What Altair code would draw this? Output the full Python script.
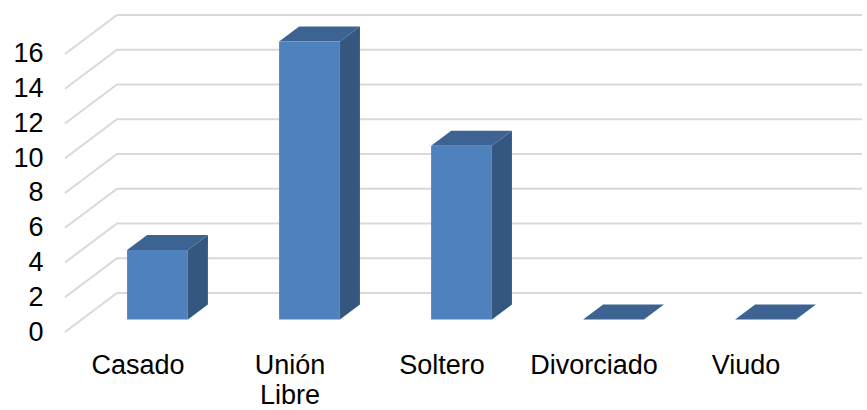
import json
import altair as alt
import pandas as pd

# ---- data ----
categories = ["Casado", "Unión Libre", "Soltero", "Divorciado", "Viudo"]
values = [4, 16, 10, 0, 0]
y_ticks = [0, 2, 4, 6, 8, 10, 12, 14, 16]

# ---- pseudo-3D geometry (style constants, in scale units) ----
X_MIN, X_MAX = -0.477, 4.766
Y_MAX = 18.53
DEPTH_X = 0.342   # full floor depth, category units
DEPTH_Y = 2.245   # full floor depth, value units
F_FRONT = 0.32
F_BACK = 0.705
HALF_W = 0.2
SHIFT = 0.022

FRONT_C = "#4F81BD"
TOP_C = "#3D6392"
SIDE_C = "#34567F"
GRID_C = "#D9D9D9"
FONT = "Liberation Sans"
FS = 27

front_rows, top_rows, side_rows, grid_rows = [], [], [], []
dxb = (F_BACK - F_FRONT) * DEPTH_X
y0f = F_FRONT * DEPTH_Y
y0b = F_BACK * DEPTH_Y
for i, (c, v) in enumerate(zip(categories, values)):
    cx = i + F_FRONT * DEPTH_X + SHIFT
    xl, xr = cx - HALF_W, cx + HALF_W
    front_rows.append(dict(cat=c, x=xl, x2=xr, y=y0f, y2=v + y0f))
    top_rows += [dict(cat=c, k=0, y=v + y0f, x=xl, x2=xr),
                 dict(cat=c, k=1, y=v + y0b, x=xl + dxb, x2=xr + dxb)]
    side_rows += [dict(cat=c, k=0, x=xr, y=v + y0f, y2=y0f),
                  dict(cat=c, k=1, x=xr + dxb, y=v + y0b, y2=y0b)]
for t in y_ticks:
    grid_rows += [dict(t=t, k=0, x=X_MIN, y=t),
                  dict(t=t, k=1, x=X_MIN + DEPTH_X, y=t + DEPTH_Y),
                  dict(t=t, k=2, x=X_MAX, y=t + DEPTH_Y)]

names = [c.split(" ") for c in categories]
x_axis = alt.Axis(values=list(range(len(categories))),
                  labelExpr=json.dumps(names, ensure_ascii=False) + "[datum.value]",
                  labelFont=FONT, labelFontSize=FS, labelColor="#000000",
                  labelPadding=20, labelLineHeight=30, labelAngle=0,
                  labelFlush=False, labelOverlap=False, labelBound=False,
                  domain=False, ticks=False, grid=False, title=None)
y_axis = alt.Axis(values=y_ticks, labelFont=FONT, labelFontSize=FS,
                  labelColor="#000000", labelPadding=22, tickSize=0,
                  labelFlush=False, labelOverlap=False,
                  domain=False, ticks=False, grid=False, title=None)
xs = alt.Scale(domain=[X_MIN, X_MAX], nice=False, zero=False)
ys = alt.Scale(domain=[0, Y_MAX], nice=False, zero=False)

X = alt.X("x:Q", scale=xs, axis=x_axis, stack=None)
Y = alt.Y("y:Q", scale=ys, axis=y_axis, stack=None)

grid = alt.Chart(pd.DataFrame(grid_rows)).mark_line(
    color=GRID_C, strokeWidth=2).encode(x=X, y=Y, detail="t:N", order="k:Q")

side = alt.Chart(pd.DataFrame(side_rows)).mark_area(
    color=SIDE_C, opacity=1, orient="vertical").encode(
    x=X, y=Y, y2="y2:Q", detail="cat:N")

top = alt.Chart(pd.DataFrame(top_rows)).mark_area(
    color=TOP_C, orient="horizontal", opacity=1).encode(
    y=Y, x=X, x2="x2:Q", detail="cat:N")

front = alt.Chart(pd.DataFrame(front_rows)).mark_rect(
    color=FRONT_C).encode(x=X, x2="x2:Q", y=Y, y2="y2:Q")

chart = alt.layer(grid, side, top, front).properties(
    width=797, height=322,
    padding={"left": 65, "top": 10, "right": 5, "bottom": 78},
    autosize=alt.AutoSizeParams(type="none"),
).configure_view(stroke=None)

chart.save("out.html", embed_options={"renderer": "svg", "actions": False})
